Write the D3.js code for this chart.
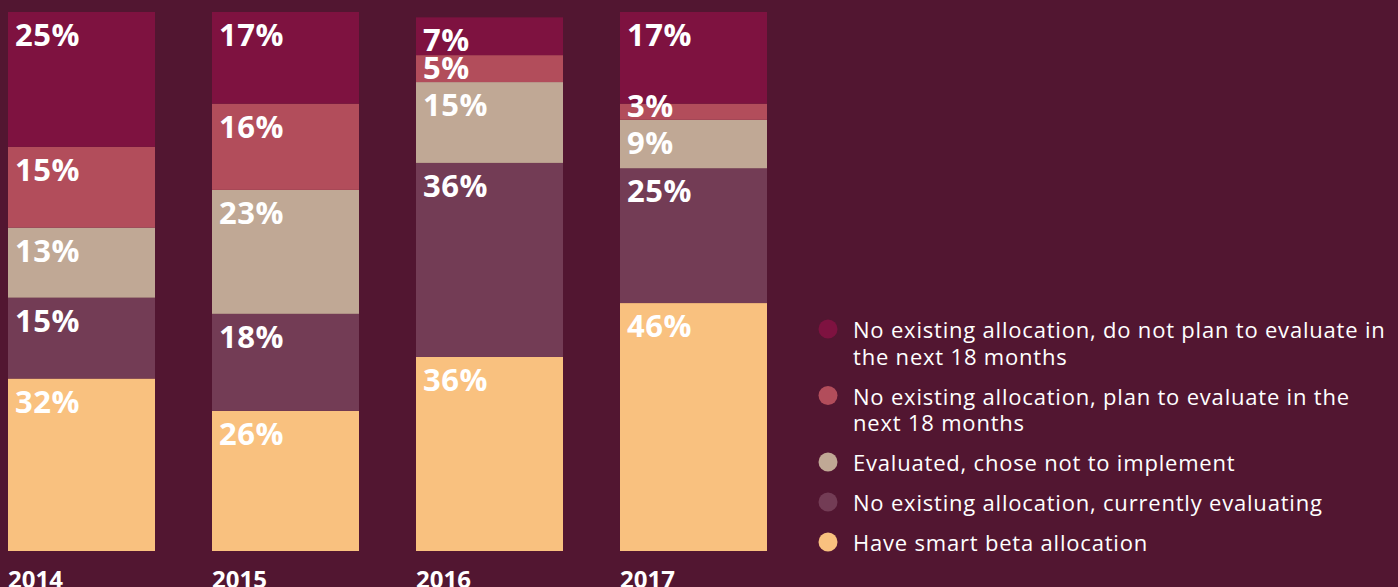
<!DOCTYPE html>
<html>
<head>
<meta charset="utf-8">
<script src="https://cdn.jsdelivr.net/npm/d3@7"></script>
<style>
  html, body { margin: 0; padding: 0; background: #521631; }
  svg { display: block; }
</style>
</head>
<body>
<div class="chart"></div>
<script>
// data
const years = ["2014", "2015", "2016", "2017"];
const seriesKeys = ["have", "evaluating", "chose_not", "plan", "no_plan"]; // bottom -> top
const haveAllocation = [32, 26, 36, 46];
const currentlyEvaluating = [15, 18, 36, 25];
const choseNot = [13, 23, 15, 9];
const planToEvaluate = [15, 16, 5, 3];
const noPlan = [25, 17, 7, 17];

// legend order is top -> bottom of the stack
const legendLabels = [
  ["No existing allocation, do not plan to evaluate in", "the next 18 months"],
  ["No existing allocation, plan to evaluate in the", "next 18 months"],
  ["Evaluated, chose not to implement"],
  ["No existing allocation, currently evaluating"],
  ["Have smart beta allocation"]
];
const legendKeys = ["no_plan", "plan", "chose_not", "evaluating", "have"];

const colors = {
  no_plan: "#7e1240",
  plan: "#b24d5b",
  chose_not: "#c0a895",
  evaluating: "#733c55",
  have: "#f9c17f"
};

const W = 1398, H = 587;
const margin = { top: 12, bottom: 36, left: 8 };
const plotH = H - margin.top - margin.bottom; // 540

const rows = years.map((y, i) => ({
  year: y,
  have: haveAllocation[i],
  evaluating: currentlyEvaluating[i],
  chose_not: choseNot[i],
  plan: planToEvaluate[i],
  no_plan: noPlan[i]
}));

const stacked = d3.stack().keys(seriesKeys)(rows);

const svg = d3.select(".chart").append("svg")
  .attr("width", W)
  .attr("height", H);

// step 204px, bar 147px
const x = d3.scaleBand()
  .domain(years)
  .range([margin.left, margin.left + 759])
  .paddingInner(57 / 204)
  .paddingOuter(0);

const y = d3.scaleLinear()
  .domain([0, 100])
  .range([margin.top + plotH, margin.top]);

svg.append("g")
  .selectAll("g")
  .data(stacked)
  .join("g")
  .attr("fill", d => colors[d.key])
  .selectAll("rect")
  .data(d => d)
  .join("rect")
  .attr("x", d => x(d.data.year))
  .attr("y", d => y(d[1]))
  .attr("width", x.bandwidth())
  .attr("height", d => y(d[0]) - y(d[1]));

// value labels, top-left of each segment, drawn over all the bars
const labelData = [];
stacked.forEach(s => s.forEach(p => labelData.push({ p: p, v: p.data[s.key] })));

svg.append("g")
  .selectAll("text")
  .data(labelData)
  .join("text")
  .attr("x", d => x(d.p.data.year) + 7)
  .attr("y", d => Math.min(y(d.p[1]) + 34, y(d.p[0]) - 3))
  .attr("fill", "#ffffff")
  .style("font-family", "'Open Sans', sans-serif")
  .style("font-weight", "bold")
  .style("font-size", "31px")
  .style("letter-spacing", "0.5px")
  .text(d => d.v + "%");

// year labels
svg.append("g")
  .selectAll("text")
  .data(years)
  .join("text")
  .attr("x", d => x(d))
  .attr("y", 588)
  .attr("fill", "#ffffff")
  .style("font-family", "'Open Sans', sans-serif")
  .style("font-weight", "bold")
  .style("font-size", "24px")
  .text(d => d);

// legend
const legend = svg.append("g").attr("transform", "translate(828,0)");
let baseline = 338;
legendKeys.forEach((k, i) => {
  const item = legend.append("g");
  item.append("circle")
    .attr("cx", 0)
    .attr("cy", baseline - 9)
    .attr("r", 9.5)
    .attr("fill", colors[k]);
  const t = item.append("text")
    .attr("x", 25)
    .attr("y", baseline)
    .attr("fill", "#ffffff")
    .style("font-family", "'Open Sans', sans-serif")
    .style("font-size", "22px")
    .style("letter-spacing", "0.8px");
  legendLabels[i].forEach((line, j) => {
    t.append("tspan")
      .attr("x", 25)
      .attr("dy", j === 0 ? 0 : 26.5)
      .text(line);
  });
  baseline += 40 + 26.5 * (legendLabels[i].length - 1);
});
</script>
</body>
</html>
